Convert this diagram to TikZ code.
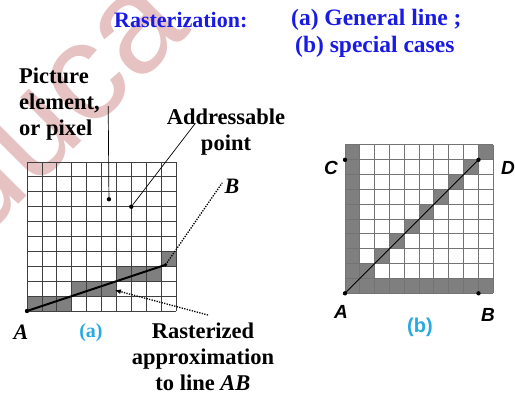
\documentclass[tikz,border=0pt]{standalone}
\usepackage{fontspec}
\setmainfont{Liberation Serif}
\setsansfont{Liberation Sans}
\usetikzlibrary{arrows.meta}
\definecolor{rasterBlue}{HTML}{1A1AE6}
\definecolor{rasterCyan}{HTML}{29A9E1}
\definecolor{rasterShade}{HTML}{7F7F7F}
\definecolor{rasterMark}{HTML}{E6C2C2}

\tikzset{
  lbl/.style={font=\fontsize{22.5}{26}\selectfont\bfseries, inner sep=0pt},
  ttl/.style={font=\fontsize{22}{27}\selectfont\bfseries, text=rasterBlue, inner sep=0pt},
  sflbl/.style={font=\fontsize{19}{23}\selectfont\sffamily\bfseries\itshape, inner sep=0pt},
  cell/.style={fill=rasterShade},
  gridline/.style={black!75, line width=0.8pt},
  dotline/.style={line width=1.3pt, dash pattern=on 1.3pt off 1.3pt},
  dotmark/.style={circle, fill=black, inner sep=0pt, minimum size=4.4pt},
  leader/.style={black, line width=0.7pt}
}

\begin{document}
\begin{tikzpicture}[x=1pt, y=-1pt]
  \useasboundingbox (0,0) rectangle (515,396);

  %% --- Watermark ---
  \node[text=rasterMark, font=\fontsize{140}{140}\selectfont\sffamily, rotate=45]
    (mark) at (50,102) {duca};

  %% --- Title ---
  \node[ttl, anchor=west] (ttlR) at (114,20) {Rasterization:};
  \node[ttl, anchor=west, font=\fontsize{23.5}{28}\selectfont\bfseries] (ttlA) at (291,20) {(a) General line ;};
  \node[ttl, anchor=west, font=\fontsize{23.5}{28}\selectfont\bfseries] (ttlB) at (295,47) {(b) special cases};

  %% --- (a) General line on a 10x10 raster ---
  \begin{scope}[shift={(27,311)}, x=14.9pt, y=14.9pt]
    \fill[cell] (0,0) rectangle (3,1);
    \fill[cell] (3,1) rectangle (6,2);
    \fill[cell] (6,2) rectangle (9,3);
    \fill[cell] (9,3) rectangle (10,4);
    \foreach \k in {0,...,10} {
      \draw[gridline] (\k,0) -- (\k,10);
      \draw[gridline] (0,\k) -- (10,\k);
    }

    \node[dotmark] (aA) at (0,0) {};
    \coordinate (aEnd) at (9.3,3.1);
    \coordinate (aB) at (13.1,8.6);
    \node[dotmark] (pixDot) at (5.5,7.5) {};
    \node[dotmark] (addrDot) at (7,7) {};
    \coordinate (pixTop) at (5.45,13.75);
    \coordinate (addrTop) at (11.3,12.6);
    \coordinate (rastTail) at (12.15,-0.27);
    \coordinate (rastTip) at (5.9,1.4);

    \draw[black, line width=2pt] (aA.center) -- (aEnd);
    \fill (aEnd) circle [radius=1.8pt];
    \draw[dotline] (aEnd) -- (aB);
    \draw[leader] (pixDot) -- (pixTop);
    \draw[leader] (addrDot) -- (addrTop);
    \draw[dotline, -{Latex[length=6pt, width=5pt]}] (rastTail) -- (rastTip);
  \end{scope}

  %% --- (a) labels ---
  \node[lbl, align=left, anchor=north west] (pixLbl) at (19,68)
    {Picture\\element,\\or pixel};
  \node[lbl, align=center] (addrLbl) at (226,132) {Addressable\\point};
  \node[lbl, font=\fontsize{22}{26}\selectfont\bfseries\itshape] (labB) at (232,186) {B};
  \node[lbl, font=\fontsize{22}{26}\selectfont\bfseries\itshape] (labA) at (21,332) {A};
  \node[lbl, text=rasterCyan, font=\fontsize{20}{24}\selectfont\bfseries] (capA) at (91,333) {(a)};
  \node[lbl, align=center] (rastLbl) at (203,357)
    {Rasterized\\approximation\\to line \textit{AB}};

  %% --- (b) Special cases: vertical, horizontal, diagonal ---
  \begin{scope}[shift={(345,293.3)}, x=14.83pt, y=14.83pt]
    \fill[cell] (0,0) rectangle (1,10);
    \fill[cell] (0,0) rectangle (10,1);
    \foreach \i in {1,...,9}
      \fill[cell] (\i,\i) rectangle ++(1,1);
    \foreach \k in {0,...,10} {
      \draw[black!55, line width=1pt] (\k,0) -- (\k,10);
      \draw[black!55, line width=1pt] (0,\k) -- (10,\k);
    }

    \node[dotmark] (bA) at (0,0) {};
    \node[dotmark] (bB) at (9,0) {};
    \node[dotmark] (bC) at (0,9) {};
    \node[dotmark] (bD) at (9,9) {};
    \draw[black, line width=0.8pt] (bA.center) -- (bD.center);
  \end{scope}

  %% --- (b) labels ---
  \node[sflbl] (labC) at (331,168) {C};
  \node[sflbl] (labD) at (508,168) {D};
  \node[sflbl] (labA2) at (341,312) {A};
  \node[sflbl] (labB2) at (488,315) {B};
  \node[inner sep=0pt, text=rasterCyan, font=\fontsize{20}{24}\selectfont\sffamily\bfseries]
    (capB) at (420,327) {(b)};
\end{tikzpicture}
\end{document}
